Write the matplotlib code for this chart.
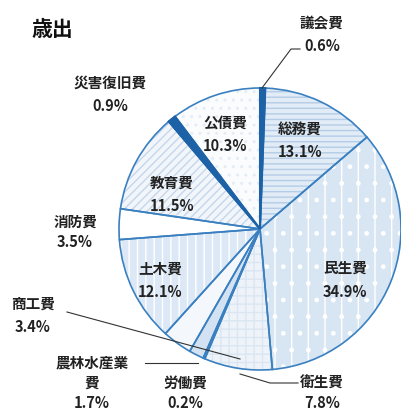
import matplotlib.pyplot as plt
from matplotlib.patches import Wedge

plt.rcParams['font.family'] = ['Noto Sans CJK JP', 'DejaVu Sans']
plt.rcParams['hatch.linewidth'] = 1.0

# 歳出の内訳 (%), 時計回りに上から
labels = ['議会費', '総務費', '民生費', '衛生費', '労働費', '農林水産業費',
          '商工費', '土木費', '消防費', '教育費', '災害復旧費', '公債費']
values = [0.6, 13.1, 34.9, 7.8, 0.2, 1.7, 3.4, 12.1, 3.5, 11.5, 0.9, 10.3]

faces = ['#1d62a6', '#e2ecf7', '#d8e5f3', '#eef3f9', '#e6eef8', '#d3e2f2',
         '#f4f7fb', '#dce8f5', '#ffffff', '#f2f6fb', '#1d62a6', '#fbfcfe']
hatches = [None, '---', '|.', '++', None, None,
           None, '||', None, '////', None, '..']
hatch_cols = ['#1d62a6', '#b4cce6', '#ffffff', '#dbe6f2', '#e6eef8', '#d3e2f2',
              '#f4f7fb', '#ffffff', '#ffffff', '#c5d7ec', '#1d62a6', '#e4ecf6']

W, H = 401, 410
fig = plt.figure(figsize=(W / 100, H / 100), dpi=100)
ax = fig.add_axes([0, 0, 1, 1])
ax.axis('off')

cx, cy, r = 260, H - 230, 141

# hatch layer
wedges, _ = ax.pie(values, startangle=90, counterclock=False,
                   center=(cx, cy), radius=r, colors=faces,
                   wedgeprops=dict(linewidth=0), frame=True)
for w, h, hc in zip(wedges, hatches, hatch_cols):
    w.set_edgecolor(hc)
    if h:
        w.set_hatch(h)

# outlines
ax.pie(values, startangle=90, counterclock=False, center=(cx, cy), radius=r,
       colors=['none'] * len(values), frame=True,
       wedgeprops=dict(linewidth=1.2, edgecolor='#3a80c0', fill=False))
for w, lab in zip(wedges, labels):
    if lab in ('議会費', '災害復旧費'):
        w2 = Wedge(w.center, w.r, w.theta1, w.theta2, facecolor='#1d62a6',
                   edgecolor='#1d62a6', linewidth=1.5)
        ax.add_patch(w2)
ax.set_xlim(0, W)
ax.set_ylim(0, H)
ax.set_aspect('equal')
ax.axis('off')

def Y(y):
    return H - y

tc = '#222222'
kw = dict(ha='center', va='center', fontsize=10.5, fontweight='bold', color=tc)

ax.text(52, Y(30), '歳出', ha='center', va='center', fontsize=15,
        fontweight='bold', color='#111111')

label_pos = {
    '議会費': (322, 22, 46),
    '総務費': (300, 129, 152),
    '民生費': (345, 268, 292),
    '衛生費': (322, 383, 403),
    '労働費': (185, 383, 403),
    '商工費': (33, 304, 327),
    '土木費': (160, 269, 292),
    '消防費': (75, 222, 242),
    '教育費': (172, 183, 206),
    '災害復旧費': (110, 83, 106),
    '公債費': (225, 124, 146),
}
for lab, v in zip(labels, values):
    if lab == '農林水産業費':
        ax.text(92, Y(362), '農林水産業', **kw)
        ax.text(92, Y(383), '費', **kw)
        ax.text(92, Y(403), f'{v}%', **kw)
        continue
    x, y1, y2 = label_pos[lab]
    ax.text(x, Y(y1), lab, **kw)
    ax.text(x, Y(y2), f'{v}%', **kw)

lc = '#333333'
ax.plot([262, 291, 300], [Y(89), Y(50), Y(50)], color=lc, lw=0.8)
ax.plot([67, 240], [Y(313), Y(360)], color=lc, lw=0.8)
ax.plot([145, 198], [Y(364), Y(364)], color=lc, lw=0.8)
ax.plot([240, 270, 298], [Y(375), Y(384), Y(384)], color=lc, lw=0.8)

fig.savefig('out.png', dpi=100)
